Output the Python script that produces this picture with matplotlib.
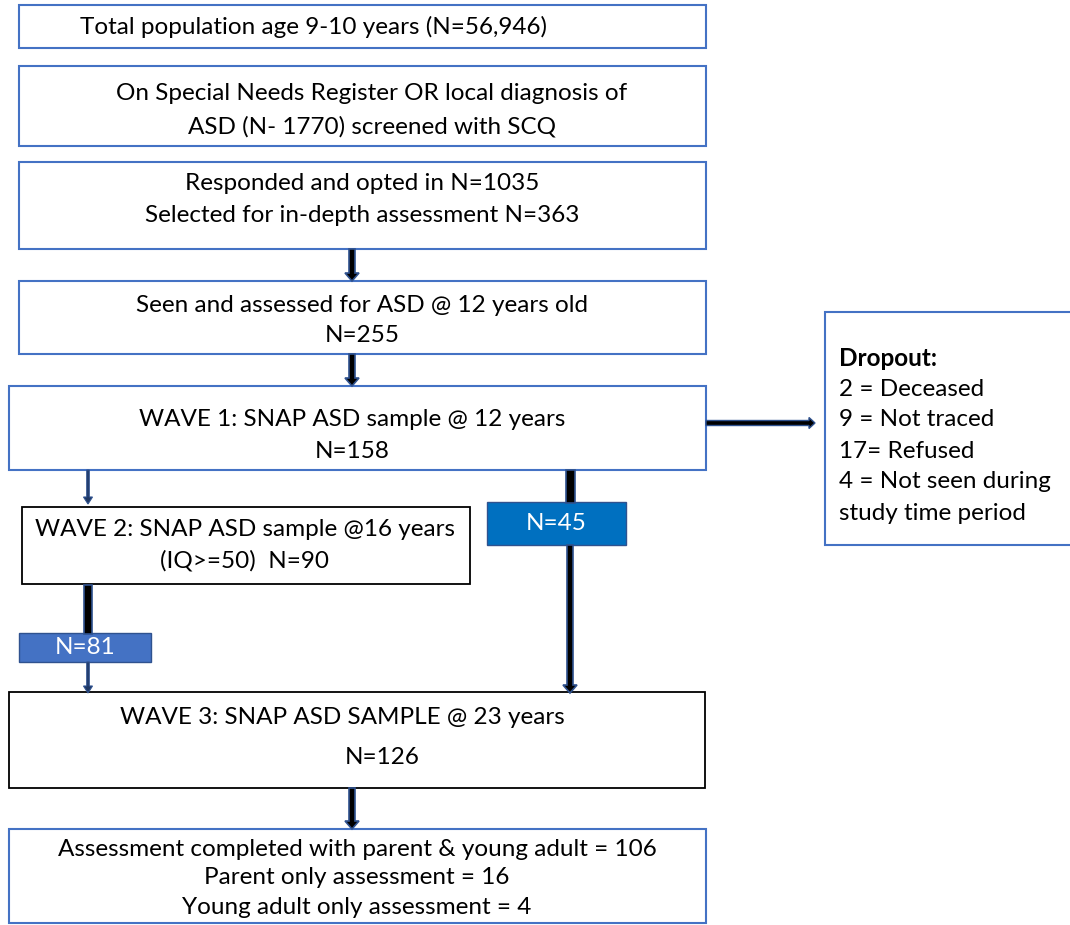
import matplotlib
matplotlib.use("Agg")
import matplotlib.pyplot as plt
from matplotlib.patches import Rectangle, FancyArrow

plt.rcParams['font.family'] = ['Lato', 'DejaVu Sans']

# ---- chart content ----
total_population = "56,946"
screened_n = "1770"
opted_in_n = 1035
selected_n = 363
assessed_n = 255
wave1_n = 158
wave2_n = 90
wave2_to_wave3_n = 81
wave1_to_wave3_n = 45
wave3_n = 126
both_n = 106
parent_only_n = 16
young_only_n = 4
dropout_labels = ["2 = Deceased", "9 = Not traced", "17= Refused",
                  "4 = Not seen during", "study time period"]

box_texts = {
    "b1": [f"Total population age 9-10 years (N={total_population})"],
    "b2": ["On Special Needs Register OR local diagnosis of",
           f"ASD (N- {screened_n}) screened with SCQ"],
    "b3": [f"Responded and opted in N={opted_in_n}",
           f"Selected for in-depth assessment N={selected_n}"],
    "b4": ["Seen and assessed for ASD @ 12 years old", f"N={assessed_n}"],
    "b5": ["WAVE 1: SNAP ASD sample @ 12 years", f"N={wave1_n}"],
    "b6": ["WAVE 2: SNAP ASD sample @16 years", f"(IQ>=50)  N={wave2_n}"],
    "b7": ["WAVE 3: SNAP ASD SAMPLE @ 23 years", f"N={wave3_n}"],
    "b8": [f"Assessment completed with parent & young adult = {both_n}",
           f"Parent only assessment = {parent_only_n}",
           f"Young adult only assessment = {young_only_n}"],
}

# ---- layout (pixel coordinates, y downward) ----
W, H = 1070, 925
fig = plt.figure(figsize=(W / 100, H / 100), dpi=100)
ax = fig.add_axes([0, 0, 1, 1])
ax.set_xlim(0, W)
ax.set_ylim(H, 0)
ax.axis('off')

BLUE_EDGE = '#4472C4'
DARK_EDGE = '#2F528F'
FS = 17.5

def box(x0, y0, x1, y1, ec=BLUE_EDGE, fc='white', lw=1.5):
    ax.add_patch(Rectangle((x0, y0), x1 - x0, y1 - y0, fc=fc, ec=ec, lw=lw, zorder=2))

def lines(x, ys, texts, ha='center', color='black', **kw):
    for y, t in zip(ys, texts):
        ax.text(x, y, t, ha=ha, va='center', fontsize=FS, color=color, zorder=5, **kw)

def thick_arrow(x, y0, y1, w=6, head=True):
    L = y1 - y0
    hl = 8 if head else 0
    ax.add_patch(FancyArrow(x, y0, 0, L, width=w, head_width=w + 8 if head else w,
                            head_length=hl, length_includes_head=True,
                            fc='black', ec=DARK_EDGE, lw=1.2, zorder=3))

def thin_arrow(x, y0, y1):
    L = y1 - y0
    ax.add_patch(FancyArrow(x, y0, 0, L, width=2.5, head_width=9, head_length=7,
                            length_includes_head=True, fc='#1F3864', ec=DARK_EDGE,
                            lw=0.8, zorder=3))

# box 1
box(19, 5, 706, 48)
ax.text(80, 27, box_texts["b1"][0], ha='left', va='center', fontsize=FS, zorder=5)
# box 2
box(19, 66, 706, 146)
lines(372, [93, 127], box_texts["b2"])
# box 3
box(19, 162, 706, 249)
lines(362, [183, 215], box_texts["b3"])
# arrow 3 -> 4
thick_arrow(352, 249, 281)
# box 4
box(19, 281, 706, 354)
lines(362, [305, 336], box_texts["b4"])
thick_arrow(352, 354, 386)
# box 5
box(9, 386, 706, 470)
lines(352, [420, 451], box_texts["b5"])
# arrow to dropout
ax.add_patch(FancyArrow(706, 423, 109, 0, width=5, head_width=11, head_length=6,
                        length_includes_head=True, fc='black', ec=DARK_EDGE,
                        lw=1.0, zorder=3))
# dropout box
box(825, 312, 1078, 545)
ax.text(839, 358, "Dropout:", ha='left', va='center', fontsize=FS,
        fontweight='bold', zorder=5)
for i, t in enumerate(dropout_labels):
    ax.text(839, 389 + i * 31, t, ha='left', va='center', fontsize=FS, zorder=5)

# wave1 -> wave2 thin arrow
thin_arrow(88, 470, 504)
# wave 2 box
box(22, 507, 470, 584, ec='black', lw=1.3)
lines(245, [530, 561], box_texts["b6"])
# wave2 -> N=81 thick line then thin arrow
thick_arrow(88, 585, 634, w=8, head=False)
box(19, 633, 151, 662, ec=DARK_EDGE, fc='#4472C4', lw=1.0)
lines(85, [648], [f"N={wave2_to_wave3_n}"], color='white')
thin_arrow(88, 662, 693)

# wave1 -> N=45 thick line
thick_arrow(570, 470, 503, w=9, head=False)
box(487, 502, 626, 545, ec=DARK_EDGE, fc='#0070C0', lw=1.0)
lines(556, [523], [f"N={wave1_to_wave3_n}"], color='white')
thick_arrow(570, 545, 693, w=6)

# wave 3 box
box(9, 692, 705, 788, ec='black', lw=1.3)
ax.text(342, 717, box_texts["b7"][0], ha='center', va='center', fontsize=FS, zorder=5)
ax.text(382, 757, box_texts["b7"][1], ha='center', va='center', fontsize=FS, zorder=5)
thick_arrow(352, 788, 829)

# box 8
box(9, 829, 706, 923)
lines(357, [849, 878, 907], box_texts["b8"])

fig.savefig("out.png", dpi=100)
